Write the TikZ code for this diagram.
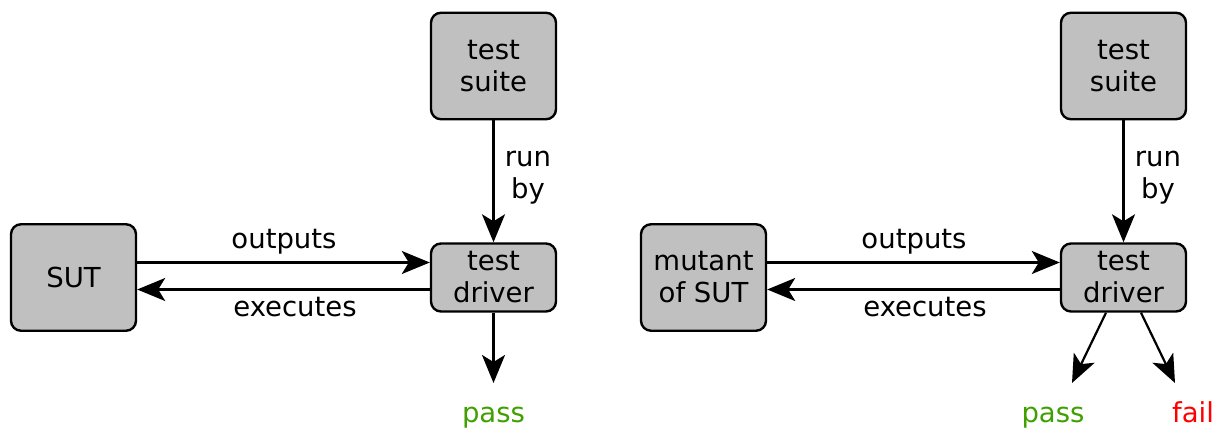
\documentclass[tikz,border=0pt]{standalone}
\usepackage{fontspec}
\setmainfont{DejaVu Sans}
\usetikzlibrary{arrows.meta}
\definecolor{boxgray}{HTML}{C0C0C0}
\definecolor{passgreen}{HTML}{3FA000}
\definecolor{failred}{HTML}{FF0000}
\begin{document}
\begin{tikzpicture}[x=1pt,y=-1pt,
  every node/.style={font=\fontsize{27.5}{32}\selectfont},
  blk/.style={draw, line width=2.4pt, fill=boxgray, rounded corners=10pt,
              minimum width=125pt, align=center, inner sep=0pt},
  tall/.style={blk, minimum height=106.5pt},
  flat/.style={blk, minimum height=68pt},
  conn/.style={line width=2.2pt, -{Stealth[length=28pt,width=23pt,inset=7pt]}},
  lbl/.style={anchor=base, align=center, inner sep=0pt}]
\useasboundingbox (0,0) rectangle (1216,430);

% ---- plain SUT ----
\node[tall] (sut)     at (73.5,277.5)  {SUT};
\node[tall] (suiteL)  at (493.5,66)    {test\\suite};
\node[flat] (driverL) at (493.5,277.5) {test\\driver};
\coordinate (passTipL) at (493.5,383);

\draw[conn] ([yshift=15pt]sut.east) -- ([yshift=15pt]driverL.west);
\draw[conn] ([yshift=-12pt]driverL.west) -- ([yshift=-12pt]sut.east);
\draw[conn] (suiteL.south) -- (driverL.north);
\draw[conn] (driverL.south) -- (passTipL);

\node[lbl] (outL)  at (284,249)   {outputs};
\node[lbl] (exeL)  at (295,316.7) {executes};
\node[align=center, inner sep=0pt] (runL) at (528,178) {run\\by};
\node[lbl, text=passgreen] (passL) at (493.5,422.5) {pass};

% ---- mutant of SUT ----
\node[tall] (mut)     at (703.5,277.5)  {mutant\\of SUT};
\node[tall] (suiteR)  at (1123.5,66)    {test\\suite};
\node[flat] (driverR) at (1123.5,277.5) {test\\driver};
\coordinate (passTipR) at (1072,383);
\coordinate (failTipR) at (1175,383);

\draw[conn] ([yshift=15pt]mut.east) -- ([yshift=15pt]driverR.west);
\draw[conn] ([yshift=-12pt]driverR.west) -- ([yshift=-12pt]mut.east);
\draw[conn] (suiteR.south) -- (driverR.north);
\draw[conn] ([xshift=-17.5pt]driverR.south) -- (passTipR);
\draw[conn] ([xshift=17.5pt]driverR.south) -- (failTipR);

\node[lbl] (outR)  at (914,249)   {outputs};
\node[lbl] (exeR)  at (925,316.7) {executes};
\node[align=center, inner sep=0pt] (runR) at (1158,178) {run\\by};
\node[lbl, text=passgreen] (passR) at (1053,422.5) {pass};
\node[lbl, text=failred]   (failR) at (1193,422.5) {fail};
\end{tikzpicture}
\end{document}
